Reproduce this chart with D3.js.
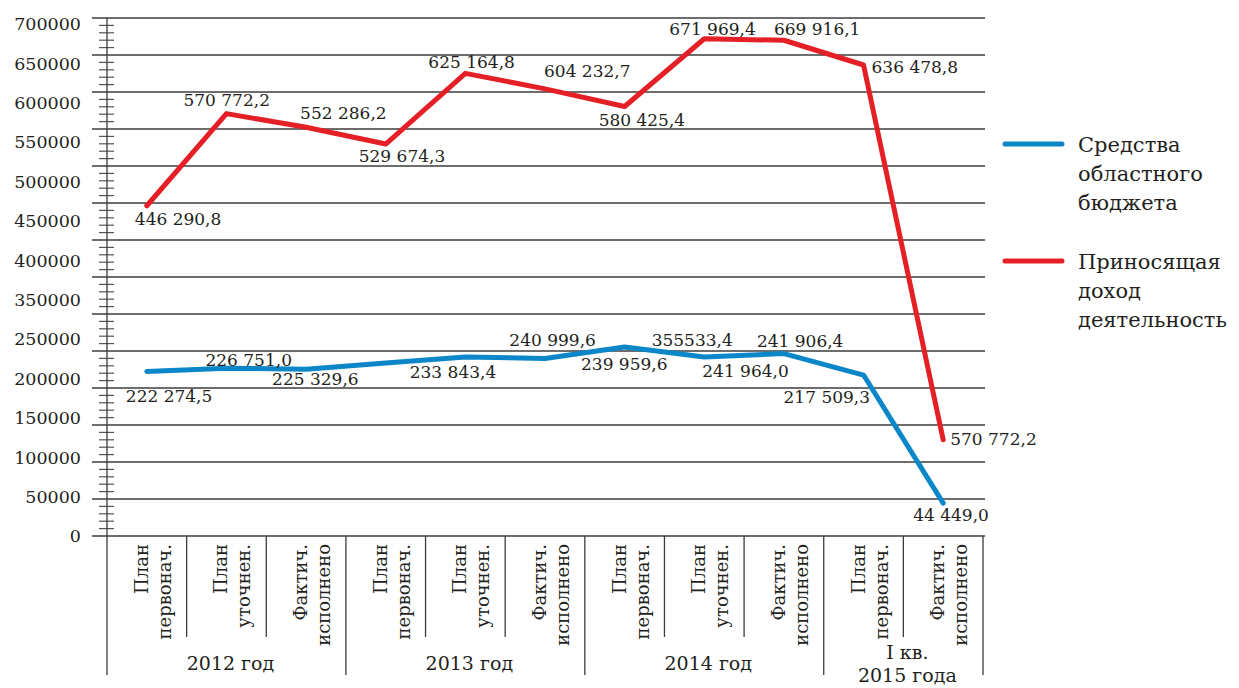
<!DOCTYPE html>
<html lang="ru">
<head>
  <meta charset="UTF-8">
  <title>Средства областного бюджета и приносящая доход деятельность</title>
  <script src="https://d3js.org/d3.v7.min.js"></script>
  <style>
    body {
      margin: 0;
      background: #fff;
    }
    svg {
      display: block;
      font-family: "DejaVu Serif", serif;
    }
    .grid line {
      stroke: #3c3c3c;
      stroke-width: 1.3;
    }
    .minor line {
      stroke: #555;
      stroke-width: 1.2;
    }
    .sep {
      stroke: #3c3c3c;
      stroke-width: 1.3;
    }
    text {
      fill: #231f20;
    }
    .series {
      fill: none;
      stroke-width: 5;
      stroke-linejoin: round;
      stroke-linecap: round;
    }
  </style>
</head>
<body>
  <div id="chart"></div>

  <script>
    // ——————————————————————————————————————————
    // 1) Данные
    const categories = [
      ["План", "первонач."], ["План", "уточнен."], ["Фактич.", "исполнено"],
      ["План", "первонач."], ["План", "уточнен."], ["Фактич.", "исполнено"],
      ["План", "первонач."], ["План", "уточнен."], ["Фактич.", "исполнено"],
      ["План", "первонач."], ["Фактич.", "исполнено"]
    ];
    const years = [
      { label: ["2012 год"], from: 0, to: 3 },
      { label: ["2013 год"], from: 3, to: 6 },
      { label: ["2014 год"], from: 6, to: 9 },
      { label: ["I кв.", "2015 года"], from: 9, to: 11 }
    ];

    // значения, как они нарисованы на графике
    const budgetValues = [222274.5, 226751.0, 225329.6, 233843.4, 242000, 239959.6,
                          255500, 241964.0, 246500, 217509.3, 44449.0];
    const incomeValues = [446290.8, 570772.2, 552286.2, 529674.3, 625164.8, 604232.7,
                          580425.4, 671969.4, 669916.1, 636478.8, 130000];

    // подписи точек (как в оригинале)
    const budgetLabels = ["222 274,5", "226 751,0", "225 329,6", "233 843,4", "240 999,6", "239 959,6",
                          "355533,4", "241 964,0", "241 906,4", "217 509,3", "44 449,0"];
    const incomeLabels = ["446 290,8", "570 772,2", "552 286,2", "529 674,3", "625 164,8", "604 232,7",
                          "580 425,4", "671 969,4", "669 916,1", "636 478,8", "570 772,2"];

    const yTickLabels = ["700000", "650000", "600000", "550000", "500000", "450000", "400000",
                         "350000", "250000", "200000", "150000", "100000", "50000", "0"];

    const legendItems = [
      { name: ["Средства", "областного", "бюджета"], color: "#0a86c9" },
      { name: ["Приносящая", "доход", "деятельность"], color: "#e41f26" }
    ];

    // смещения подписей относительно точек (раскладка)
    const budgetLabelPos = [[-21, 30], [-21, -2], [-34, 16], [24, 15], [44, -11], [36, 12],
                            [27, -1], [-2, 20], [-27, -7], [-80, 28], [-30, 18]];
    const incomeLabelPos = [[-12, 19], [-43, -8], [-6, -8], [-27, 18], [-37, -5], [-1, -12],
                            [-26, 20], [-35, -4], [-10, -5], [8, 8], [7, 5]];

    // 2) SVG и шкалы
    const width = 1239;
    const height = 688;
    const svg = d3.select("#chart")
                  .append("svg")
                  .attr("width", width)
                  .attr("height", height);

    const x = d3.scaleBand()
                .domain(d3.range(categories.length))
                .range([107, 983]);

    const y = d3.scaleLinear()
                .domain([0, 700000])
                .range([536, 18]);

    // подписи оси Y идут равномерно (как на исходной картинке, без 300000)
    const yLabel = d3.scalePoint()
                     .domain(yTickLabels)
                     .range([24, 536]);

    // 3) Сетка и ось Y
    svg.append("g")
      .attr("class", "grid")
      .selectAll("line")
      .data(d3.range(0, 700001, 50000))
      .join("line")
        .attr("x1", 92)
        .attr("x2", 985)
        .attr("y1", d => y(d))
        .attr("y2", d => y(d));

    svg.append("g")
      .attr("class", "minor")
      .selectAll("line")
      .data(d3.range(0, 700001, 10000).filter(d => d % 50000 !== 0))
      .join("line")
        .attr("x1", 99)
        .attr("x2", 114)
        .attr("y1", d => y(d))
        .attr("y2", d => y(d));

    svg.append("line")
      .attr("class", "sep")
      .attr("x1", x.range()[0]).attr("x2", x.range()[0])
      .attr("y1", y(700000)).attr("y2", 675);

    svg.append("g")
      .selectAll("text")
      .data(yTickLabels)
      .join("text")
        .attr("x", 81)
        .attr("y", d => yLabel(d))
        .attr("dy", "0.36em")
        .attr("text-anchor", "end")
        .attr("font-size", 17.5)
        .text(d => d);

    // 4) Ось X: разделители и подписи
    const step = x.step();
    const yearEnds = new Set(years.map(g => g.to));
    svg.append("g")
      .selectAll("line")
      .data(d3.range(1, categories.length + 1))
      .join("line")
        .attr("class", "sep")
        .attr("x1", i => x.range()[0] + i * step)
        .attr("x2", i => x.range()[0] + i * step)
        .attr("y1", y(0))
        .attr("y2", i => yearEnds.has(i) ? 675 : 637);

    const catG = svg.append("g")
      .selectAll("text")
      .data(categories)
      .join("text")
        .attr("transform", (d, i) => `translate(${x(i) + step / 2},544) rotate(-90)`)
        .attr("text-anchor", "end")
        .attr("font-size", 18);
    catG.append("tspan").attr("x", 0).attr("y", 1).text(d => d[0]);
    catG.append("tspan").attr("x", 0).attr("y", 24).text(d => d[1]);

    svg.append("g")
      .selectAll("text")
      .data(years)
      .join("text")
        .attr("text-anchor", "middle")
        .attr("font-size", 19)
        .each(function (g) {
          const cx = (x(g.from) + x(g.to - 1) + step) / 2 + 4;
          const base = g.label.length > 1 ? 659 : 670;
          d3.select(this).selectAll("tspan")
            .data(g.label)
            .join("tspan")
              .attr("x", cx)
              .attr("y", (t, k) => base + k * 23)
              .text(t => t);
        });

    // 5) Линии
    const line = d3.line()
                   .x((d, i) => x(i) + step / 2)
                   .y(d => y(d));

    svg.append("path")
      .datum(budgetValues)
      .attr("class", "series")
      .attr("stroke", legendItems[0].color)
      .attr("d", line);

    svg.append("path")
      .datum(incomeValues)
      .attr("class", "series")
      .attr("stroke", legendItems[1].color)
      .attr("d", line);

    // 6) Подписи значений
    function drawLabels(values, labels, pos) {
      svg.append("g")
        .selectAll("text")
        .data(values)
        .join("text")
          .attr("x", (d, i) => x(i) + step / 2 + pos[i][0])
          .attr("y", (d, i) => y(d) + pos[i][1])
          .attr("font-size", 17)
          .text((d, i) => labels[i]);
    }
    drawLabels(budgetValues, budgetLabels, budgetLabelPos);
    drawLabels(incomeValues, incomeLabels, incomeLabelPos);

    // 7) Легенда
    const leg = svg.append("g")
      .selectAll("g")
      .data(legendItems)
      .join("g")
        .attr("transform", (d, i) => `translate(1005,${144 + i * 117})`);

    leg.append("line")
      .attr("x1", 0).attr("x2", 57)
      .attr("stroke", d => d.color)
      .attr("stroke-width", 5)
      .attr("stroke-linecap", "round");

    leg.append("text")
      .attr("font-size", 21)
      .selectAll("tspan")
      .data(d => d.name)
      .join("tspan")
        .attr("x", 73)
        .attr("y", (t, k) => 8 + k * 29)
        .text(t => t);
  </script>
</body>
</html>
